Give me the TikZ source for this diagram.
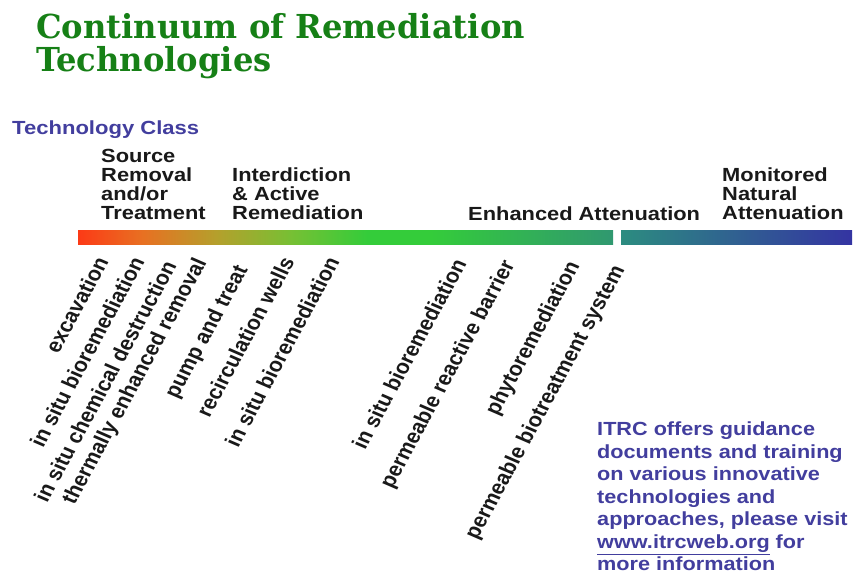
\documentclass[tikz,border=0pt]{standalone}
\usepackage{fontspec}
\setsansfont{Liberation Sans}
\newfontfamily\titlefont{DejaVu Serif}
\definecolor{titlegreen}{RGB}{22,128,22}
\definecolor{itrcblue}{RGB}{66,62,158}
\definecolor{headblack}{RGB}{25,25,25}
\definecolor{barred}{RGB}{252,58,22}
\definecolor{barorange}{RGB}{232,112,34}
\definecolor{barolive}{RGB}{180,160,44}
\definecolor{barlime}{RGB}{118,192,52}
\definecolor{bargreen}{RGB}{52,204,58}
\definecolor{barteal}{RGB}{48,152,112}
\definecolor{barcyan}{RGB}{44,140,128}
\definecolor{barblue}{RGB}{52,52,162}
\pgfdeclarehorizontalshading{leftbar}{100bp}{color(0bp)=(barred); color(25bp)=(barred); color(31bp)=(barorange); color(38bp)=(barolive); color(45bp)=(barlime); color(52bp)=(bargreen); color(58bp)=(bargreen); color(75bp)=(barteal); color(100bp)=(barteal)}
\pgfdeclarehorizontalshading{rightbar}{100bp}{color(0bp)=(barcyan); color(25bp)=(barcyan); color(75bp)=(barblue); color(100bp)=(barblue)}
\usetikzlibrary{positioning}
\begin{document}
\begin{tikzpicture}[x=1pt, y=-1pt, line join=round, line cap=round,
  titlestyle/.style={font=\titlefont\bfseries\fontsize{33}{33}\selectfont, text=titlegreen, xscale=0.975, anchor=base west, inner sep=0pt},
  classlabel/.style={font=\sffamily\bfseries\fontsize{19}{19}\selectfont, text=itrcblue, xscale=1.16, anchor=base west, inner sep=0pt},
  head/.style={font=\sffamily\bfseries\fontsize{19}{19.3}\selectfont, text=headblack, xscale=1.15, align=left, anchor=base west, inner sep=0pt},
  tech/.style={font=\sffamily\bfseries\fontsize{20}{20}\selectfont, text=headblack, xscale=1.12, rotate=64, anchor=east, inner sep=0pt},
  note/.style={font=\sffamily\bfseries\fontsize{19}{22.5}\selectfont, text=itrcblue, xscale=1.14, align=left, anchor=north west, inner sep=0pt}]
\useasboundingbox (0,0) rectangle (855,575);
\fill[white] (0,0) rectangle (855,575);
\clip (0,0) rectangle (855,575);
% title
\node[titlestyle] (title1) at (36,39) {Continuum of Remediation};
\node[titlestyle] (title2) at (36,72) {Technologies};
\node[classlabel] (class) at (12,135) {Technology Class};
% classes
\node[head] (source) at (101,220) {Source\\Removal\\and/or\\Treatment};
\node[head] (interdiction) at (232,220) {Interdiction\\\& Active\\Remediation};
\node[head] (enhanced) at (468,221) {Enhanced Attenuation};
\node[head] (monitored) at (722,220) {Monitored\\Natural\\Attenuation};
% the continuum bar
\shade[shading=leftbar] (78,231) rectangle (613,245);
\shade[shading=rightbar] (621,231) rectangle (852,245);
% technologies
\foreach \x/\y/\t [count=\i] in {102/258/excavation, 138/258/in situ bioremediation, 170/262/in situ chemical destruction, 202/260/thermally enhanced removal, 243/267/pump and treat, 288/258/recirculation wells, 333/258/in situ bioremediation, 460/260/in situ bioremediation, 510/262/permeable reactive barrier, 575/263/phytoremediation, 620/267/permeable biotreatment system}
  \node[tech] (tech\i) at (\x,\y) {\t};
% note
\node[note] (itrc) at (597,422) {ITRC offers guidance\\documents and training\\on various innovative\\technologies and\\approaches, please visit\\\underline{www.itrcweb.org} for\\more information};
\end{tikzpicture}
\end{document}
